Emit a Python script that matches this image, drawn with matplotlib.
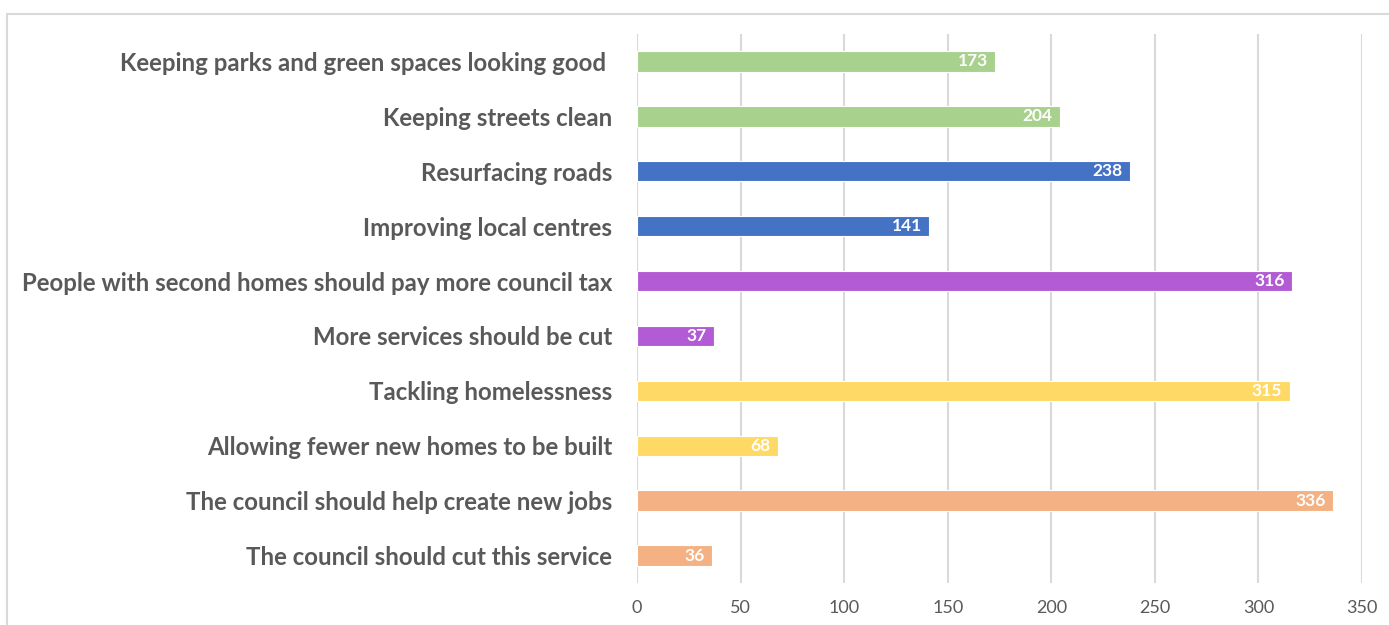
import numpy as np
import matplotlib.pyplot as plt
from matplotlib.patches import Rectangle

# bottom to top, as drawn
labels = ['The council should cut this service',
          'The council should help create new jobs',
          'Allowing fewer new homes to be built',
          'Tackling homelessness',
          'More services should be cut',
          'People with second homes should pay more council tax',
          'Improving local centres',
          'Resurfacing roads',
          'Keeping streets clean',
          'Keeping parks and green spaces looking good ']
values = [36, 336, 68, 315, 37, 316, 141, 238, 204, 173]
colors = ['#F4B183', '#F4B183', '#FFD966', '#FFD966', '#B35BD5',
          '#B35BD5', '#4472C4', '#4472C4', '#A9D18E', '#A9D18E']
xticks = [0, 50, 100, 150, 200, 250, 300, 350]

plt.rcParams['font.family'] = ['Lato', 'DejaVu Sans']

fig = plt.figure(figsize=(13.89, 6.25), dpi=100)
ax = fig.add_axes([0.4586, 0.0672, 0.5220, 0.8784])

# outer chart border (partly cut off on the right and bottom)
fig.patches.append(Rectangle((7 / 1389, -0.1), 1.1, 0.1 + (625 - 14) / 625,
                             transform=fig.transFigure, fill=False,
                             edgecolor='#D9D9D9', linewidth=1.5))

y = np.arange(len(labels))
ax.barh(y, values, height=0.37, color=colors, edgecolor='white',
        linewidth=0.8, zorder=3)

for yi, v in zip(y, values):
    ax.text(v - 3.5, yi, str(v), ha='right', va='center', color='white',
            fontsize=12.5, fontweight='bold', zorder=4)

ax.set_xlim(0, 350)
ax.set_ylim(-0.5, len(labels) - 0.5)
ax.set_xticks(xticks)
ax.set_yticks(y)
ax.set_yticklabels(labels, fontsize=17.3, fontweight='bold', color='#595959')
ax.tick_params(axis='x', labelsize=13, colors='#595959', length=0, pad=12)
ax.tick_params(axis='y', length=0, pad=18)
ax.grid(True, axis='x', color='#D9D9D9', linewidth=1.5, zorder=0)
for s in ax.spines.values():
    s.set_visible(False)

plt.savefig('out.png')
plt.close()
